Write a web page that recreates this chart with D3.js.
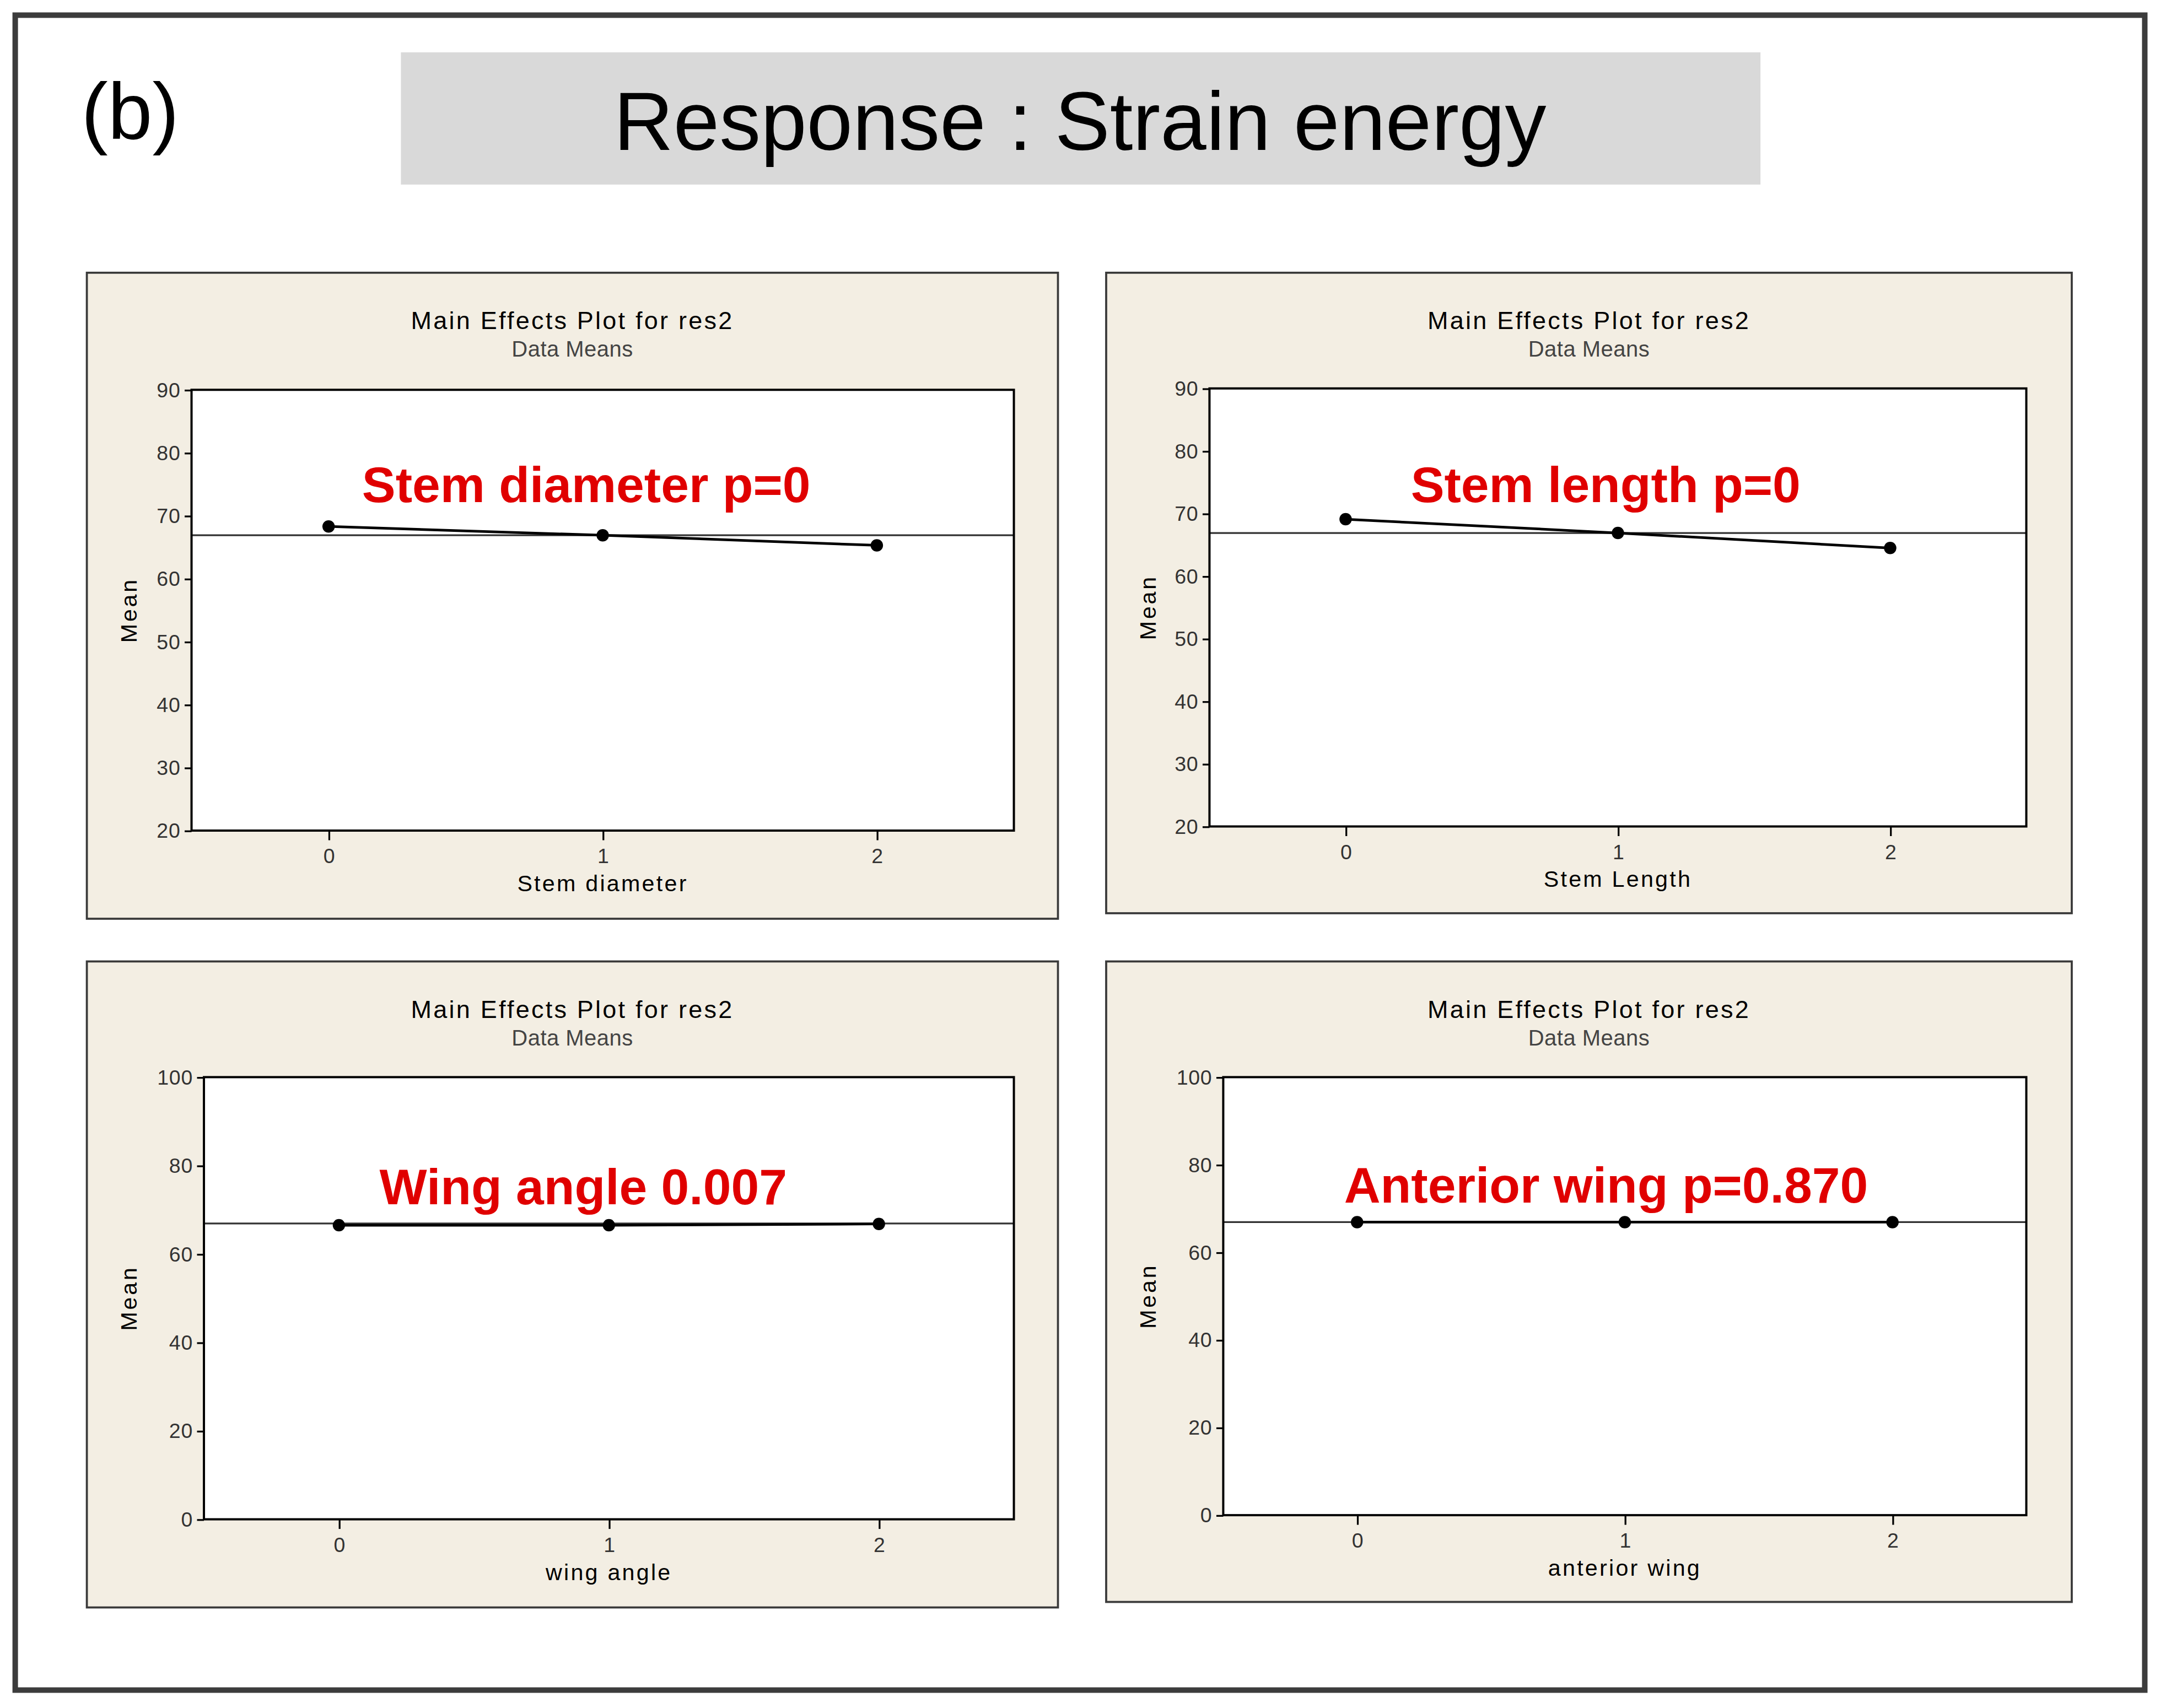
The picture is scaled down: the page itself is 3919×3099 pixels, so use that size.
<!DOCTYPE html>
<html>
<head>
<meta charset="utf-8">
<script src="https://cdn.jsdelivr.net/npm/d3@7"></script>
<style>
  html, body { margin: 0; padding: 0; background: #fff; }
  svg { display: block; }
</style>
</head>
<body>
<svg id="chart"></svg>
<script>
const width = 3919;
const height = 3099;

// data
const levels = [0, 1, 2];
const factorNames = ["Stem diameter", "Stem Length", "wing angle", "anterior wing"];
const annotations = ["Stem diameter p=0", "Stem length p=0", "Wing angle 0.007", "Anterior wing p=0.870"];
const stemDiameterMeans = [68.3, 66.9, 65.3];
const stemLengthMeans = [69.1, 66.9, 64.5];
const wingAngleMeans = [66.5, 66.5, 66.8];
const anteriorWingMeans = [66.9, 66.9, 66.9];
const grandMean = 66.9;
const yDomains = [[20, 90], [20, 90], [0, 100], [0, 100]];
const yTickSteps = [10, 10, 20, 20];

const chartTitle = "Response : Strain energy";
const panelLabel = "(b)";
const plotTitle = "Main Effects Plot for res2";
const plotSubtitle = "Data Means";

const seriesMeans = [stemDiameterMeans, stemLengthMeans, wingAngleMeans, anteriorWingMeans];

// layout, in a 1568 x 1240 working space
const panels = [
  { box: [63, 198, 768, 667], plot: [139, 283, 736, 603], note: [0.94, 72.2] },
  { box: [803, 198, 1504, 663], plot: [878, 282, 1471, 600], note: [0.955, 71.8] },
  { box: [63, 698, 768, 1167], plot: [148, 782, 736, 1103], note: [0.905, 71.3] },
  { box: [803, 698, 1504, 1163], plot: [888, 782, 1471, 1100], note: [0.93, 71.3] },
];

const sans = "'Liberation Sans', Arial, sans-serif";

const svg = d3.select("#chart")
  .attr("width", width)
  .attr("height", height)
  .attr("viewBox", "0 0 1568 1240");

svg.append("rect")
  .attr("width", 1568).attr("height", 1240)
  .attr("fill", "#fff");

// outer frame
svg.append("rect")
  .attr("x", 11).attr("y", 11)
  .attr("width", 1546).attr("height", 1216)
  .attr("fill", "none")
  .attr("stroke", "#3c3c3c")
  .attr("stroke-width", 4);

svg.append("text")
  .attr("x", 59).attr("y", 101)
  .attr("font-family", sans)
  .attr("font-size", 58)
  .attr("fill", "#000")
  .text(panelLabel);

// title banner
svg.append("rect")
  .attr("x", 291).attr("y", 38)
  .attr("width", 987).attr("height", 96)
  .attr("fill", "#d9d9d9");

svg.append("text")
  .attr("x", 784).attr("y", 109)
  .attr("text-anchor", "middle")
  .attr("font-family", sans)
  .attr("font-size", 60)
  .attr("fill", "#000")
  .text(chartTitle);

panels.forEach((p, i) => {
  const [bx0, by0, bx1, by1] = p.box;
  const [px0, py0, px1, py1] = p.plot;
  const g = svg.append("g");

  g.append("rect")
    .attr("x", bx0).attr("y", by0)
    .attr("width", bx1 - bx0).attr("height", by1 - by0)
    .attr("fill", "#f3eee3")
    .attr("stroke", "#3a3a3a")
    .attr("stroke-width", 1.5);

  const cx = (bx0 + bx1) / 2;
  g.append("text")
    .attr("x", cx).attr("y", by0 + 41)
    .attr("text-anchor", "middle")
    .attr("font-family", sans)
    .attr("font-size", 18)
    .attr("letter-spacing", 1.3)
    .attr("fill", "#000")
    .text(plotTitle);

  g.append("text")
    .attr("x", cx).attr("y", by0 + 61)
    .attr("text-anchor", "middle")
    .attr("font-family", sans)
    .attr("font-size", 16)
    .attr("letter-spacing", 0.2)
    .attr("fill", "#444")
    .text(plotSubtitle);

  const x = d3.scaleLinear().domain([-0.5, 2.5]).range([px0, px1]);
  const y = d3.scaleLinear().domain(yDomains[i]).range([py1, py0]);

  g.append("rect")
    .attr("x", px0).attr("y", py0)
    .attr("width", px1 - px0).attr("height", py1 - py0)
    .attr("fill", "#fff");

  // reference line at the grand mean
  g.append("line")
    .attr("x1", px0).attr("x2", px1)
    .attr("y1", y(grandMean)).attr("y2", y(grandMean))
    .attr("stroke", "#333")
    .attr("stroke-width", 1.3);

  const pts = levels.map((lv, j) => [lv, seriesMeans[i][j]]);
  g.append("path")
    .datum(pts)
    .attr("fill", "none")
    .attr("stroke", "#000")
    .attr("stroke-width", 1.9)
    .attr("d", d3.line().x(d => x(d[0])).y(d => y(d[1])));

  g.selectAll("circle")
    .data(pts)
    .join("circle")
    .attr("cx", d => x(d[0]))
    .attr("cy", d => y(d[1]))
    .attr("r", 4.5)
    .attr("fill", "#000");

  g.append("rect")
    .attr("x", px0).attr("y", py0)
    .attr("width", px1 - px0).attr("height", py1 - py0)
    .attr("fill", "none")
    .attr("stroke", "#000")
    .attr("stroke-width", 1.6);

  const [lo, hi] = yDomains[i];
  const yAxis = g.append("g")
    .attr("transform", `translate(${px0},0)`)
    .call(d3.axisLeft(y)
      .tickValues(d3.range(lo, hi + 1, yTickSteps[i]))
      .tickSize(5)
      .tickPadding(3));

  const xAxis = g.append("g")
    .attr("transform", `translate(0,${py1})`)
    .call(d3.axisBottom(x)
      .tickValues(levels)
      .tickFormat(d3.format("d"))
      .tickSize(7)
      .tickPadding(6));

  [yAxis, xAxis].forEach(ax => {
    ax.select(".domain").remove();
    ax.selectAll(".tick line").attr("stroke", "#000").attr("stroke-width", 1.3);
    ax.selectAll(".tick text")
      .attr("fill", "#333")
      .attr("font-family", sans)
      .attr("font-size", 15)
      .attr("letter-spacing", 0.3);
  });

  // red annotation
  g.append("text")
    .attr("x", x(p.note[0])).attr("y", y(p.note[1]))
    .attr("text-anchor", "middle")
    .attr("font-family", sans)
    .attr("font-weight", "bold")
    .attr("font-size", 36.5)
    .attr("fill", "#e00000")
    .text(annotations[i]);

  g.append("text")
    .attr("x", (px0 + px1) / 2).attr("y", py1 + 44)
    .attr("text-anchor", "middle")
    .attr("font-family", sans)
    .attr("font-size", 16.5)
    .attr("letter-spacing", 1.3)
    .attr("fill", "#000")
    .text(factorNames[i]);

  g.append("text")
    .attr("transform", `translate(${bx0 + 36},${(py0 + py1) / 2}) rotate(-90)`)
    .attr("text-anchor", "middle")
    .attr("font-family", sans)
    .attr("font-size", 16.5)
    .attr("letter-spacing", 1.5)
    .attr("fill", "#000")
    .text("Mean");
});
</script>
</body>
</html>
